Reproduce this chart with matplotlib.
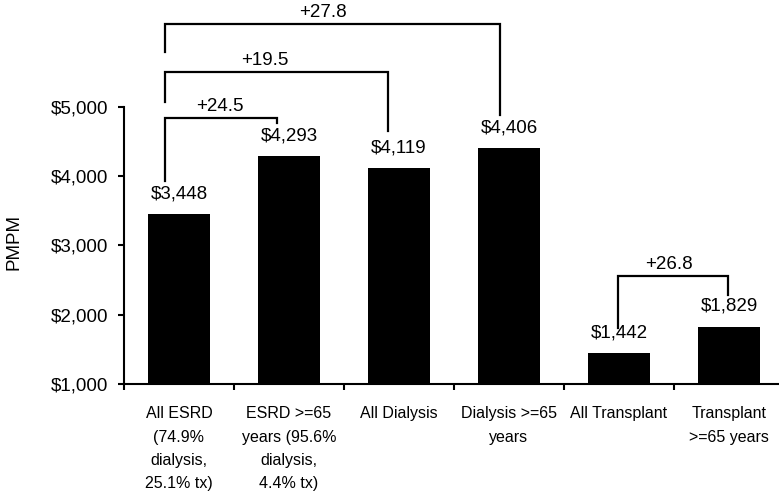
import matplotlib
matplotlib.use("Agg")
import matplotlib.pyplot as plt
import numpy as np

# per-member-per-month cost by group
groups = ["All ESRD\n(74.9%\ndialysis,\n25.1% tx)",
          "ESRD >=65\nyears (95.6%\ndialysis,\n4.4% tx)",
          "All Dialysis",
          "Dialysis >=65\nyears",
          "All Transplant",
          "Transplant\n>=65 years"]
pmpm = [3448, 4293, 4119, 4406, 1442, 1829]

# comparisons drawn as brackets: (from group, to group)
pairs = [(0, 1), (0, 2), (0, 3), (4, 5)]

# bracket layout: x of both legs, y of top bar and of each leg's lower end
br_x = [(-0.13, 0.89), (-0.13, 1.90), (-0.13, 2.915), (3.99, 4.99)]
br_top = [4841, 5505, 6199, 2560]
br_low = [(3931, 4769), (5072, 4653), (5794, 4884), (1809, 2285)]
lbl_x = [0.37, 0.78, 1.31, 4.45]

plt.rcParams['font.family'] = ['Liberation Sans', 'DejaVu Sans']

fig = plt.figure(figsize=(7.79, 4.92), dpi=100)
ax = fig.add_axes([124/779, 108/492, 660/779, 277/492])

x = np.arange(len(pmpm))
ax.bar(x, pmpm, width=0.565, color='black', zorder=2)
ax.set_xlim(-0.5, len(pmpm) - 0.5)
ax.set_ylim(1000, 5000)

for xi, v in zip(x, pmpm):
    ax.annotate('${:,}'.format(v), (xi, v), xytext=(0, 8.5), textcoords='offset points',
                ha='center', va='bottom', fontsize=13.5)

for (i, j), (xl, xr), top, (yl, yr), lx in zip(pairs, br_x, br_top, br_low, lbl_x):
    ax.plot([xl, xl, xr, xr], [yl, top, top, yr], color='black', lw=1.6,
            clip_on=False, solid_joinstyle='miter', zorder=3)
    pct = (pmpm[j] / pmpm[i] - 1) * 100
    ax.annotate('+{:.1f}'.format(pct), (lx, top), xytext=(0, 2), textcoords='offset points',
                ha='center', va='bottom', fontsize=13.5, annotation_clip=False)

# axes styling
for s in ['top', 'right']:
    ax.spines[s].set_visible(False)
for s in ['left', 'bottom']:
    ax.spines[s].set_linewidth(1.5)

ax.set_yticks([1000, 2000, 3000, 4000, 5000])
ax.set_yticklabels(['${:,}'.format(t) for t in [1000, 2000, 3000, 4000, 5000]], fontsize=13.5)
ax.tick_params(axis='y', direction='out', length=4.5, width=1.5, pad=7)

ax.set_xticks(x)
ax.set_xticklabels(groups, fontsize=11.5, linespacing=1.7, va='top')
ax.tick_params(axis='x', which='major', length=0, pad=16)
ax.set_xticks(np.arange(len(pmpm) + 1) - 0.5, minor=True)
ax.tick_params(axis='x', which='minor', direction='out', length=4.5, width=1.5)

fig.text(14/779, 1 - 242/492, 'PMPM', rotation=90, ha='center', va='center', fontsize=13.5)

fig.savefig('out.png', dpi=100)
